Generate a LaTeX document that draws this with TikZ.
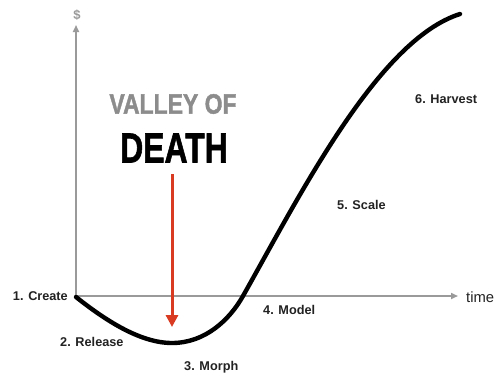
\documentclass[tikz,border=0pt]{standalone}
\usepackage{fontspec}
\setmainfont{Liberation Sans}
\newfontfamily\heavyfont[FakeBold=1.6]{Liberation Sans Bold}
\usetikzlibrary{arrows.meta}
\definecolor{axisgray}{HTML}{9A9A9A}
\definecolor{valleygray}{HTML}{8C8C8C}
\definecolor{arrowred}{HTML}{D93A22}
\definecolor{labeltext}{HTML}{222222}
\tikzset{
  axis/.style={draw=axisgray, line width=1.6pt, -{Triangle[length=7pt,width=6pt]}},
  stage/.style={font=\fontsize{12.7}{14}\selectfont\bfseries, text=labeltext, inner sep=0pt},
  curve/.style={line width=4.4pt, line cap=round, draw=black},
}
\begin{document}
\begin{tikzpicture}[x=1pt,y=-1pt]
\useasboundingbox[fill=white] (0,0) rectangle (499,376);
\coordinate (O) at (76,296);
\coordinate (ytop) at (76,25);
\coordinate (xend) at (458,296);
\draw[axis] (O) -- (ytop);
\draw[axis] (O) -- (xend);
\node[font=\fontsize{13}{14}\selectfont\bfseries, text=axisgray, inner sep=0pt] (dollar) at (77,15) {\$};
\node[font=\fontsize{14.8}{16}\selectfont, text=labeltext, anchor=west, inner sep=0pt] (time) at (466,297) {time};
% curve
\coordinate (c0) at (76,297);
\coordinate (cmin) at (172,343);
\coordinate (ccross) at (243,296);
\coordinate (cend) at (460,14);
\draw[curve] (c0) .. controls (105,320) and (140,343) .. (cmin)
  .. controls (205,343) and (229.5,320) .. (ccross)
  .. controls (300,195) and (378,40) .. (cend);
% title
\node[inner sep=0pt, text=valleygray] (valley) at (173,104) {\scalebox{0.82}[1]{\fontsize{28}{30}\selectfont\heavyfont VALLEY OF}};
\node[inner sep=0pt, text=black] (death) at (174,148) {\scalebox{0.76}[1]{\fontsize{42}{44}\selectfont\heavyfont DEATH}};
\coordinate (atop) at (172,174);
\coordinate (abot) at (172,327);
\draw[draw=arrowred, line width=3pt, -{Triangle[length=12pt,width=12pt]}] (atop) -- (abot);
% stage labels
\node[stage, anchor=east] (create) at (68,296) {1. Create};
\node[stage, anchor=west] (release) at (60,342) {2. Release};
\node[stage, anchor=west] (morph) at (184,367) {3. Morph};
\node[stage, anchor=west] (model) at (263,310) {4. Model};
\node[stage, anchor=west] (scale) at (337,205) {5. Scale};
\node[stage, anchor=west] (harvest) at (415,99) {6. Harvest};
\end{tikzpicture}
\end{document}
